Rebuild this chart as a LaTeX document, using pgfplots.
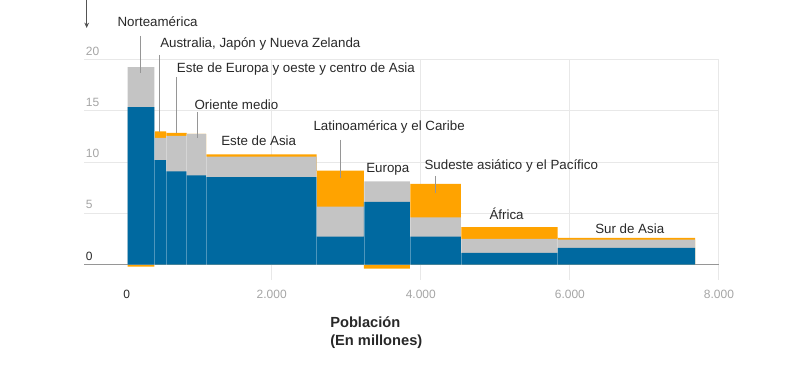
\documentclass[border=0pt]{standalone}
\usepackage{pgfplots}
\pgfplotsset{compat=1.18}
\usepackage{pgfplotstable}
\usepackage{fontspec}
\setmainfont{Liberation Sans}
\usetikzlibrary{arrows.meta}
\definecolor{bluec}{RGB}{0,105,160}
\definecolor{grayc}{RGB}{196,196,196}
\definecolor{orangec}{RGB}{255,163,0}
\definecolor{gridc}{RGB}{232,232,232}
\definecolor{axisc}{RGB}{150,150,150}
\definecolor{tickc}{RGB}{165,165,165}
\definecolor{darktext}{RGB}{40,40,40}
\definecolor{leaderc}{RGB}{150,150,150}

% x = start of the region (millions), b = blue, g = gray, o = orange
\pgfplotstableread{
x b g o
68 15.35 3.90 -0.20
425 10.18 2.18 0.64
582 9.10 3.45 0.30
860 8.71 4.04 0.00
1119 8.52 2.02 0.22
2602 2.73 2.93 3.51
3238 6.11 2.00 -0.40
3855 2.73 1.88 3.25
4539 1.14 1.37 1.13
5836 1.63 0.81 0.16
7679 0 0 0
}\datatable

\begin{document}
\begin{tikzpicture}[x=0.75pt,y=0.75pt]
\path[use as bounding box] (0,0) rectangle (792,371);
\begin{axis}[
  at={(63.225pt,68.3pt)}, anchor=south west,
  scale only axis, width=476pt, height=165.3pt,
  xmin=-514, xmax=8000, ymin=-1.5, ymax=20,
  axis line style={draw=none},
  tick style={draw=none},
  xtick={2000,4000,6000,8000},
  ytick={5,10,15,20},
  scaled x ticks=false, scaled y ticks=false,
  x tick label as interval=false,
  grid=major,
  major grid style={color=gridc, line width=0.75pt},
  extra y ticks={0},
  extra y tick style={major grid style={color=axisc, line width=1.3pt}, yticklabel style={text=darktext}},
  extra x ticks={55},
  extra x tick labels={0},
  extra x tick style={grid=none, xticklabel style={text=darktext}},
  /pgf/number format/assume math mode=true,
  /pgf/number format/1000 sep={.},
  tick label style={font=\fontsize{9}{11}\selectfont},
  yticklabel style={anchor=south west, inner sep=0pt, xshift=1pt, yshift=3pt, text=tickc},
  xticklabel style={text=tickc, yshift=-4pt},
  clip=false,
]
\addplot[ybar interval, fill=orangec, draw=none]
  table[x=x, y expr={\thisrow{o}<0 ? \thisrow{o} : \thisrow{b}+\thisrow{g}+\thisrow{o}}] \datatable;
\addplot[ybar interval, fill=grayc, draw=none]
  table[x=x, y expr={\thisrow{b}+\thisrow{g}}] \datatable;
\addplot[ybar interval, fill=bluec, draw=none]
  table[x=x, y=b] \datatable;
\addplot[ycomb, white, line width=0.5pt, opacity=0.3, mark=none] coordinates {
(425,13.0) (582,12.85) (860,12.75) (1119,10.76) (2602,9.17) (3238,8.11) (3855,7.86) (4539,3.64) (5836,2.6)};
\end{axis}
% arrow at the top left
\draw[darktext!80, line width=0.6pt, -{Stealth[length=4pt,width=3.5pt]}] (86.7,371) -- (86.7,343);
% leaders
\begin{scope}[leaderc, line width=0.75pt]
\draw (140,335) -- (140,298);
\draw (159.5,316) -- (159.5,239);
\draw (176.7,294) -- (176.7,238);
\draw (197,259) -- (197,233);
\draw (340.7,231) -- (340.7,193);
\draw (435.7,195) -- (435.7,178);
\end{scope}
% region labels
\begin{scope}[every node/.style={anchor=base west, inner sep=0pt, text=darktext, font=\fontsize{10}{12}\selectfont}]
\node at (117.3,344.3) {Norteamérica};
\node at (160,323.3) {Australia, Japón y Nueva Zelanda};
\node at (176.7,298.3) {Este de Europa y oeste y centro de Asia};
\node at (194.3,261.7) {Oriente medio};
\node at (221,225.3) {Este de Asia};
\node at (313.3,240.3) {Latinoamérica y el Caribe};
\node at (366,198.3) {Europa};
\node at (424.3,201) {Sudeste asiático y el Pacífico};
\node at (489.3,151) {África};
\node at (595,137.7) {Sur de Asia};
\end{scope}
\node[anchor=north west, inner sep=0pt, align=left, text=darktext, font=\bfseries\fontsize{11}{14}\selectfont] at (330,55) {Población\\(En millones)};
\end{tikzpicture}
\end{document}
